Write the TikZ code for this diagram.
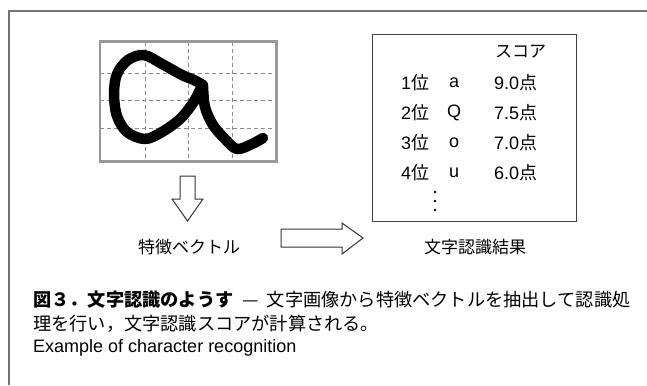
\documentclass[tikz,border=0pt]{standalone}
\usepackage{fontspec}
\setmainfont{Liberation Sans}
\newfontfamily\jp{Noto Sans CJK JP}
\newcommand\jpx[1]{{\jp #1}}
\begin{document}
\begin{tikzpicture}[x=1pt,y=-1pt,
  frame/.style={draw=black!55,line width=1.2pt},
  gridbox/.style={draw=black!40,line width=2.6pt},
  gridline/.style={draw=black!45,line width=0.8pt,dash pattern=on 4pt off 3pt},
  pen/.style={draw=black,line width=10.5pt,line cap=round,line join=round},
  blockarrow/.style={draw=black!80,line width=1pt,fill=white,line join=miter},
  lbl/.style={font=\jp\fontsize{17}{20}\selectfont,inner sep=0pt},
  cell/.style={font=\fontsize{18}{20}\selectfont,inner sep=0pt},
  captxt/.style={font=\jp\fontsize{18.2}{20}\selectfont,inner sep=0pt,anchor=west}]
\useasboundingbox (0,0) rectangle (647,385);
% open frame
\draw[frame] (647,11) -- (9,11) -- (9,385);
% character image
\node[inner sep=0pt,minimum width=176pt,minimum height=119pt] (img) at (188,101.5) {};
\foreach \xx in {145,188,232} \draw[gridline] (\xx,42) -- (\xx,161);
\foreach \yy in {73,100,128} \draw[gridline] (100,\yy) -- (276,\yy);
\draw[pen] plot[smooth,tension=0.55] coordinates {(203,85) (194,80) (182,75) (162,64) (144,55) (128,60) (117,74) (114,94) (117,116) (127,132) (145,139) (162,132) (180,119) (193,103) (200,90) (203,85)};
\draw[pen] plot[smooth,tension=0.55] coordinates {(203,86) (205,107) (213,125) (225,139) (237,149) (252,144) (263,138)};
\draw[gridbox] (img.north west) rectangle (img.south east);
% down arrow
\draw[blockarrow] (180,176) -- (195,176) -- (195,199) -- (203,199) -- (187.5,221) -- (172,199) -- (180,199) -- cycle;
\node[lbl] (fv) at (189,247) {特徴ベクトル};
% right arrow
\draw[blockarrow] (281,229) -- (342,229) -- (342,223) -- (363,238) -- (342,254) -- (342,247) -- (281,247) -- cycle;
% result box
\node[draw=black!75,line width=1pt,minimum width=204pt,minimum height=186pt,inner sep=0pt] (res) at (474,128) {};
\node[lbl] (restitle) at (475,247) {文字認識結果};
\node[lbl,anchor=west] (sc) at (495,52) {スコア};
\foreach \r/\c/\s/\yy in {1/a/9.0/83,2/Q/7.5/113,3/o/7.0/143,4/u/6.0/173}{
  \node[cell,anchor=west] (rank\r) at (401,\yy) {\r\jpx{位}};
  \node[cell] (ch\r) at (454,\yy) {\c};
  \node[cell,anchor=west] (score\r) at (494,\yy) {\s\jpx{点}};
}
\foreach \yy in {192,201,210} \fill (435,\yy) circle (1.4pt);
% caption
\node[captxt] (c1) at (33,300) {{\bfseries 図３．文字認識のようす}\hspace{0.5em}—\hspace{0.45em}文字画像から特徴ベクトルを抽出して認識処};
\node[captxt] (c2) at (33,324) {理を行い，文字認識スコアが計算される。};
\node[inner sep=0pt,anchor=west,font=\fontsize{18}{20}\selectfont] (c3) at (33,348) {Example of character recognition};
\end{tikzpicture}
\end{document}
